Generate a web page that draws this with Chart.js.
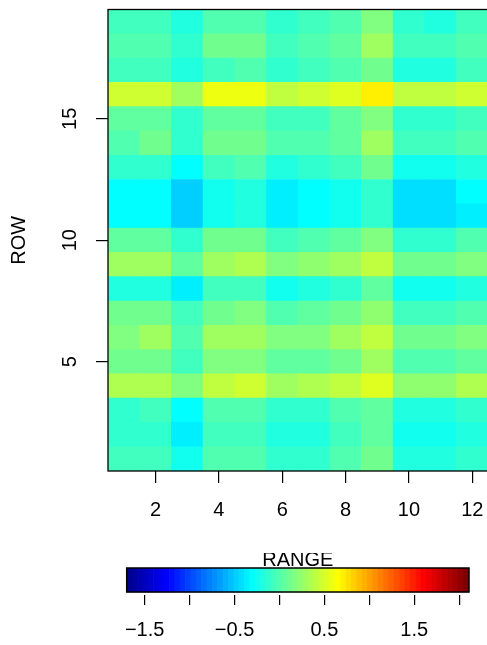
<!DOCTYPE html>
<html><head><meta charset="utf-8">
<script src="https://cdn.jsdelivr.net/npm/chart.js@4/dist/chart.umd.min.js"></script>
<style>
html,body{margin:0;padding:0;background:#fff;overflow:hidden;width:487px;height:645px;}
#main{position:absolute;left:0;top:0;}
#bar{position:absolute;left:0;top:553px;}
</style></head><body>
<canvas id="main" width="520" height="540"></canvas>
<canvas id="bar" width="487" height="92"></canvas>
<script>
// ---- data ----
const columns = [1,2,3,4,5,6,7,8,9,10,11,12];
const rows = [1,2,3,4,5,6,7,8,9,10,11,12,13,14,15,16,17,18,19];
const xTickValues = [2,4,6,8,10,12];
const yTickValues = [5,10,15];
const legendTickValues = [-1.5,-1,-0.5,0,0.5,1,1.5,2];
const legendLabelValues = [-1.5,-0.5,0.5,1.5];
const zRange = [-1.70, 2.11];
const xTitle = '';
const yTitle = 'ROW';
const legendTitle = 'RANGE';

const row1  = [-0.06,-0.06,-0.24, 0.00, 0.00,-0.12,-0.12, 0.00, 0.12,-0.18,-0.18,-0.12];
const row2  = [-0.12,-0.12,-0.36,-0.06,-0.06,-0.18,-0.18,-0.06, 0.06,-0.24,-0.24,-0.18];
const row3  = [-0.12,-0.06,-0.30, 0.00, 0.00,-0.12,-0.12, 0.00, 0.06,-0.18,-0.18,-0.12];
const row4  = [ 0.35, 0.35, 0.18, 0.41, 0.47, 0.29, 0.35, 0.41, 0.53, 0.23, 0.23, 0.35];
const row5  = [ 0.12, 0.12,-0.06, 0.18, 0.18, 0.06, 0.06, 0.12, 0.29, 0.00, 0.00, 0.06];
const row6  = [ 0.18, 0.29, 0.00, 0.29, 0.29, 0.18, 0.18, 0.29, 0.41, 0.12, 0.12, 0.18];
const row7  = [ 0.12, 0.12,-0.06, 0.12, 0.18, 0.00, 0.06, 0.12, 0.23,-0.06,-0.06, 0.00];
const row8  = [-0.18,-0.18,-0.36,-0.06,-0.06,-0.24,-0.18,-0.12, 0.06,-0.24,-0.24,-0.18];
const row9  = [ 0.29, 0.29, 0.06, 0.29, 0.35, 0.18, 0.23, 0.29, 0.41, 0.12, 0.12, 0.18];
const row10 = [ 0.06, 0.06,-0.12, 0.12, 0.12,-0.06, 0.00, 0.06, 0.18,-0.12,-0.12, 0.00];
const row11 = [-0.30,-0.30,-0.48,-0.24,-0.18,-0.36,-0.30,-0.24,-0.12,-0.42,-0.42,-0.36];
const row12 = [-0.30,-0.30,-0.48,-0.24,-0.18,-0.36,-0.30,-0.24,-0.12,-0.42,-0.42,-0.30];
const row13 = [-0.12,-0.12,-0.30,-0.06, 0.00,-0.18,-0.12,-0.06, 0.12,-0.24,-0.24,-0.18];
const row14 = [ 0.00, 0.12,-0.12, 0.12, 0.12, 0.00, 0.00, 0.06, 0.29,-0.06,-0.06, 0.00];
const row15 = [ 0.06, 0.06,-0.12, 0.06, 0.06,-0.06,-0.06, 0.06, 0.18,-0.12,-0.12,-0.06];
const row16 = [ 0.47, 0.47, 0.29, 0.59, 0.59, 0.41, 0.47, 0.53, 0.71, 0.41, 0.41, 0.47];
const row17 = [-0.06,-0.06,-0.18,-0.06, 0.00,-0.12,-0.06, 0.00, 0.12,-0.18,-0.18,-0.06];
const row18 = [ 0.00, 0.00,-0.12, 0.12, 0.12,-0.06, 0.00, 0.06, 0.29,-0.06,-0.06, 0.00];
const row19 = [-0.06,-0.06,-0.18, 0.00, 0.00,-0.12,-0.06, 0.00, 0.18,-0.12,-0.18,-0.06];
const values = [row1,row2,row3,row4,row5,row6,row7,row8,row9,row10,row11,row12,row13,row14,row15,row16,row17,row18,row19];

// ---- colour scale (jet / tim.colors, 64 levels) ----
const NCOL = 64;
function clamp01(v){ return Math.max(0, Math.min(1, v)); }
function jet(i){
  const x = (i + 1) / NCOL;
  const r = clamp01(Math.min(4*x - 1.5, -4*x + 4.5));
  const g = clamp01(Math.min(4*x - 0.5, -4*x + 3.5));
  const b = clamp01(Math.min(4*x + 0.5, -4*x + 2.5));
  return 'rgb(' + Math.round(r*255) + ',' + Math.round(g*255) + ',' + Math.round(b*255) + ')';
}
const palette = Array.from({length: NCOL}, (_, i) => jet(i));
function colorFor(z){
  let k = Math.floor((z - zRange[0]) / (zRange[1] - zRange[0]) * NCOL);
  k = Math.max(0, Math.min(NCOL - 1, k));
  return palette[k];
}
const swatchStep = (zRange[1] - zRange[0]) / NCOL;
const swatches = palette.map((c, i) => ({center: zRange[0] + (i + 0.5) * swatchStep, color: c}));

const FONT = {family: "'Liberation Sans', Arial, Helvetica, sans-serif", size: 20};
const fmt = v => (v < 0 ? '\u2212' : '') + Math.abs(v).toFixed(1);

const boxPlugin = {
  id: 'box',
  afterDatasetsDraw(chart){
    const {ctx, chartArea: a} = chart;
    ctx.save();
    ctx.strokeStyle = '#000';
    ctx.lineWidth = 1.3;
    ctx.strokeRect(a.left, a.top, a.right - a.left, a.bottom - a.top);
    ctx.restore();
  }
};

// ---- main heat map ----
const datasets = rows.map((r, i) => ({
  data: columns.map(c => ({x: c, y: [r - 0.5, r + 0.5]})),
  backgroundColor: values[i].map(colorFor),
  borderWidth: 0,
  barPercentage: 1,
  categoryPercentage: 1,
  grouped: false
}));

const tickGrid = len => ({display: true, offset: false, drawOnChartArea: false, drawTicks: true,
  tickLength: len, color: '#000', tickColor: '#000', lineWidth: 1.2, tickWidth: 1.2});

new Chart(document.getElementById('main'), {
  type: 'bar',
  data: {datasets},
  options: {
    responsive: false, animation: false, events: [],
    layout: {padding: {left: 0, top: 9.5, right: 31.8, bottom: 0}},
    plugins: {legend: {display: false}, tooltip: {enabled: false}},
    scales: {
      x: {
        type: 'linear', min: 0.5, max: 12.5, offset: false,
        grid: tickGrid(12), border: {display: false},
        afterBuildTicks: s => { s.ticks = xTickValues.map(v => ({value: v})); },
        afterFit: s => { s.height = 69; s.paddingLeft = 0; s.paddingRight = 0; },
        ticks: {font: FONT, color: '#000', padding: 15, maxRotation: 0, autoSkip: false, callback: v => String(v)},
        title: {display: false, text: xTitle}
      },
      y: {
        type: 'linear', min: 0.5, max: 19.5,
        grid: tickGrid(12), border: {display: false},
        afterBuildTicks: s => { s.ticks = yTickValues.map(v => ({value: v})); },
        afterFit: s => { s.width = 108; s.paddingTop = 0; s.paddingBottom = 0; },
        ticks: {font: FONT, color: '#000', padding: 14, minRotation: 90, maxRotation: 90, crossAlign: 'center', autoSkip: false, callback: v => String(v)},
        title: {display: true, text: yTitle, font: FONT, color: '#000', padding: {top: 7, bottom: 0}}
      }
    }
  },
  plugins: [boxPlugin]
});

// ---- colour bar legend ----
new Chart(document.getElementById('bar'), {
  type: 'bar',
  data: {datasets: [{
    data: swatches.map(s => ({x: s.center, y: [3, 27]})),
    backgroundColor: swatches.map(s => s.color),
    borderWidth: 0, barPercentage: 1, categoryPercentage: 1
  }]},
  options: {
    responsive: false, animation: false, events: [],
    layout: {padding: {left: 126.7, right: 18, top: 0, bottom: 0}},
    plugins: {
      legend: {display: false}, tooltip: {enabled: false},
      title: {display: true, text: legendTitle, color: '#000', font: Object.assign({}, FONT, {weight: 'normal', lineHeight: 0.75}), padding: 0}
    },
    scales: {
      x: {
        type: 'linear', min: zRange[0], max: zRange[1], offset: false,
        grid: tickGrid(10), border: {display: false},
        afterBuildTicks: s => { s.ticks = legendTickValues.map(v => ({value: v})); },
        afterFit: s => { s.height = 50; s.paddingLeft = 0; s.paddingRight = 0; },
        ticks: {font: FONT, color: '#000', padding: 13.5, maxRotation: 0, autoSkip: false,
          callback: v => legendLabelValues.includes(v) ? fmt(v) : ''}
      },
      y: {display: false, min: 0, max: 27}
    }
  },
  plugins: [{
    id: 'outline',
    afterDatasetsDraw(chart){
      const {ctx} = chart;
      const xs = chart.scales.x, ys = chart.scales.y;
      const l = xs.getPixelForValue(zRange[0]), r = xs.getPixelForValue(zRange[1]);
      const t = ys.getPixelForValue(27), b = ys.getPixelForValue(3);
      ctx.save();
      ctx.strokeStyle = '#000';
      ctx.lineWidth = 1.5;
      ctx.strokeRect(l, t, r - l, b - t);
      ctx.restore();
    }
  }]
});
</script>
</body></html>
